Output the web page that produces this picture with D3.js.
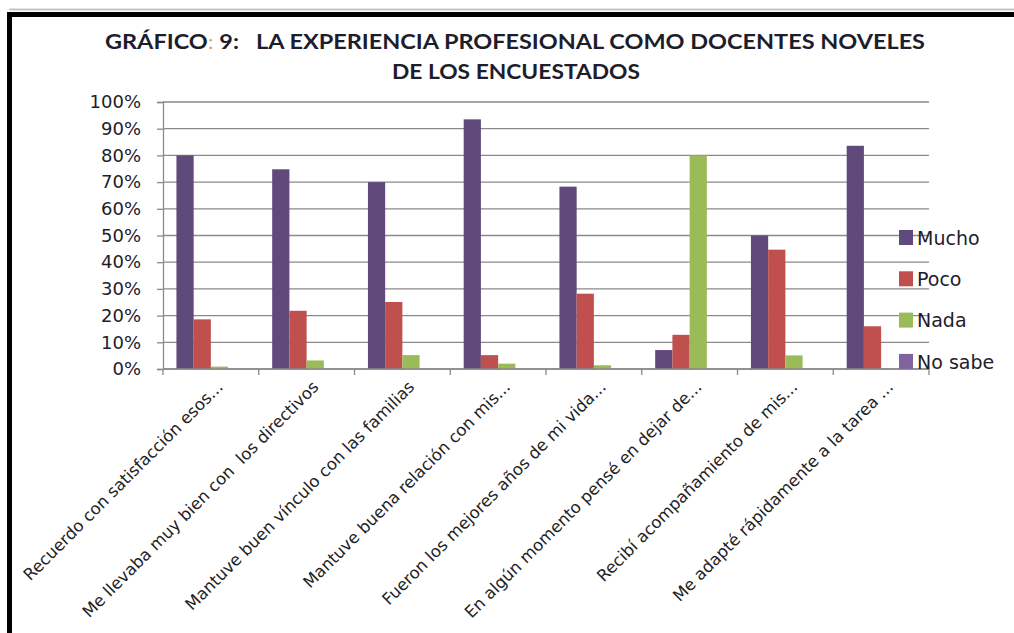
<!DOCTYPE html>
<html>
<head>
<meta charset="utf-8">
<script src="https://cdn.jsdelivr.net/npm/d3@7"></script>
<style>
  html, body { margin: 0; padding: 0; background: #fff; }
  svg { display: block; }
  text { white-space: pre; }
</style>
</head>
<body>
<svg id="chart" width="1014" height="633"></svg>
<script>
// categories (x axis labels, already truncated like the original)
const categories = [
  "Recuerdo con satisfacción esos...",
  "Me llevaba muy bien con  los directivos",
  "Mantuve buen vínculo con las familias",
  "Mantuve buena relación con mis...",
  "Fueron los mejores años de mi vida...",
  "En algún momento pensé en dejar de...",
  "Recibí acompañamiento de mis...",
  "Me adapté rápidamente a la tarea ..."
];

const seriesNames = ["Mucho", "Poco", "Nada", "No sabe"];

// values (fractions)
const mucho  = [0.80, 0.748, 0.70, 0.935, 0.683, 0.071, 0.50, 0.836];
const poco   = [0.186, 0.218, 0.251, 0.052, 0.282, 0.128, 0.447, 0.16];
const nada   = [0.009, 0.032, 0.052, 0.02, 0.014, 0.80, 0.051, 0];
const noSabe = [0, 0, 0, 0, 0, 0, 0, 0];

const yTicks = [0, 0.1, 0.2, 0.3, 0.4, 0.5, 0.6, 0.7, 0.8, 0.9, 1];

const colors = ["#604a7b", "#c0504d", "#9bbb59", "#8064a2"];

const titleLines = ["LA EXPERIENCIA PROFESIONAL COMO DOCENTES NOVELES", "DE LOS ENCUESTADOS"];

const seriesValues = [mucho, poco, nada, noSabe];
const rows = categories.map((c, i) => ({
  cat: c,
  vals: seriesNames.map((s, j) => ({ key: s, value: seriesValues[j][i] }))
}));

const svg = d3.select("#chart");
const font = "'DejaVu Sans', Verdana, sans-serif";
const titleFont = "Lato, 'Open Sans', sans-serif";
const textColor = "#1d1d2b";

// frame like the pasted screenshot
svg.append("line")
  .attr("x1", 9).attr("x2", 1014).attr("y1", 9.5).attr("y2", 9.5)
  .attr("stroke", "#c4c4c4").attr("stroke-width", 2);
svg.append("rect")
  .attr("x", 7).attr("y", 12).attr("width", 1014).attr("height", 5)
  .attr("fill", "#000");
svg.append("rect")
  .attr("x", 7).attr("y", 12).attr("width", 5).attr("height", 633)
  .attr("fill", "#000");

// title (Calibri-like glyphs, stretched to the original width)
const t1 = svg.append("text")
  .attr("x", 105).attr("y", 49)
  .attr("font-family", titleFont)
  .attr("font-weight", "bold")
  .attr("font-size", 20)
  .attr("fill", textColor)
  .attr("textLength", 820)
  .attr("lengthAdjust", "spacingAndGlyphs");
t1.append("tspan").text("GRÁFICO");
t1.append("tspan").attr("fill", "#e8a060").attr("font-weight", "normal").text(":");
t1.append("tspan").text(" 9:   " + titleLines[0]);

svg.append("text")
  .attr("x", 392).attr("y", 79)
  .attr("font-family", titleFont)
  .attr("font-weight", "bold")
  .attr("font-size", 20)
  .attr("fill", textColor)
  .attr("textLength", 248)
  .attr("lengthAdjust", "spacingAndGlyphs")
  .text(titleLines[1]);

// plot area
const plotL = 163, plotR = 929, plotT = 102, plotB = 369;

const x = d3.scaleBand().domain(categories).range([plotL, plotR]).padding(0);
const xInner = d3.scaleBand().domain(seriesNames).range([0, x.bandwidth()])
  .paddingInner(0).paddingOuter(0.78);
const y = d3.scaleLinear().domain([0, 1]).range([plotB, plotT]);

// gridlines
svg.append("g")
  .selectAll("line")
  .data(yTicks)
  .join("line")
  .attr("x1", plotL).attr("x2", plotR)
  .attr("y1", d => y(d)).attr("y2", d => y(d))
  .attr("stroke", "#8a8a8a")
  .attr("stroke-width", 1.3);

// y axis
const yAxis = svg.append("g")
  .attr("transform", `translate(${plotL},0)`)
  .call(d3.axisLeft(y).tickValues(yTicks).tickFormat(d3.format(".0%")).tickSize(6).tickPadding(16));
yAxis.select(".domain").attr("stroke", "#8a8a8a").attr("stroke-width", 1.3);
yAxis.selectAll(".tick line").attr("stroke", "#8a8a8a").attr("stroke-width", 1.3);
yAxis.selectAll(".tick text")
  .attr("font-family", font)
  .attr("font-size", 18)
  .attr("fill", textColor);

// bars
const groups = svg.append("g")
  .selectAll("g")
  .data(rows)
  .join("g")
  .attr("transform", d => `translate(${x(d.cat)},0)`);

groups.selectAll("rect")
  .data(d => d.vals)
  .join("rect")
  .attr("x", d => xInner(d.key))
  .attr("width", xInner.bandwidth())
  .attr("y", d => y(d.value))
  .attr("height", d => y(0) - y(d.value))
  .attr("fill", (d, i) => colors[i]);

// x axis (category boundaries)
const xAxisG = svg.append("g").attr("transform", `translate(0,${plotB})`);
xAxisG.append("line")
  .attr("x1", plotL).attr("x2", plotR)
  .attr("stroke", "#8a8a8a").attr("stroke-width", 1.3);
const boundaries = categories.map(c => x(c)).concat([plotR]);
xAxisG.selectAll("line.tk")
  .data(boundaries)
  .join("line")
  .attr("class", "tk")
  .attr("x1", d => d).attr("x2", d => d)
  .attr("y1", 0).attr("y2", 6)
  .attr("stroke", "#8a8a8a").attr("stroke-width", 1.3);

xAxisG.selectAll("text")
  .data(categories)
  .join("text")
  .attr("transform", d => `translate(${x(d) + x.bandwidth() / 2 + 13},${19}) rotate(-45)`)
  .attr("text-anchor", "end")
  .attr("font-family", font)
  .attr("font-size", 16.5)
  .attr("fill", "#222")
  .text(d => d);

// legend
const legend = svg.append("g")
  .selectAll("g")
  .data(seriesNames)
  .join("g")
  .attr("transform", (d, i) => `translate(899,${238 + i * 41.3})`);
legend.append("rect")
  .attr("x", 0).attr("y", -8)
  .attr("width", 14).attr("height", 15)
  .attr("fill", (d, i) => colors[i]);
legend.append("text")
  .attr("x", 18).attr("y", 0).attr("dy", "0.36em")
  .attr("font-family", font)
  .attr("font-size", 19)
  .attr("fill", textColor)
  .text(d => d);
</script>
</body>
</html>
